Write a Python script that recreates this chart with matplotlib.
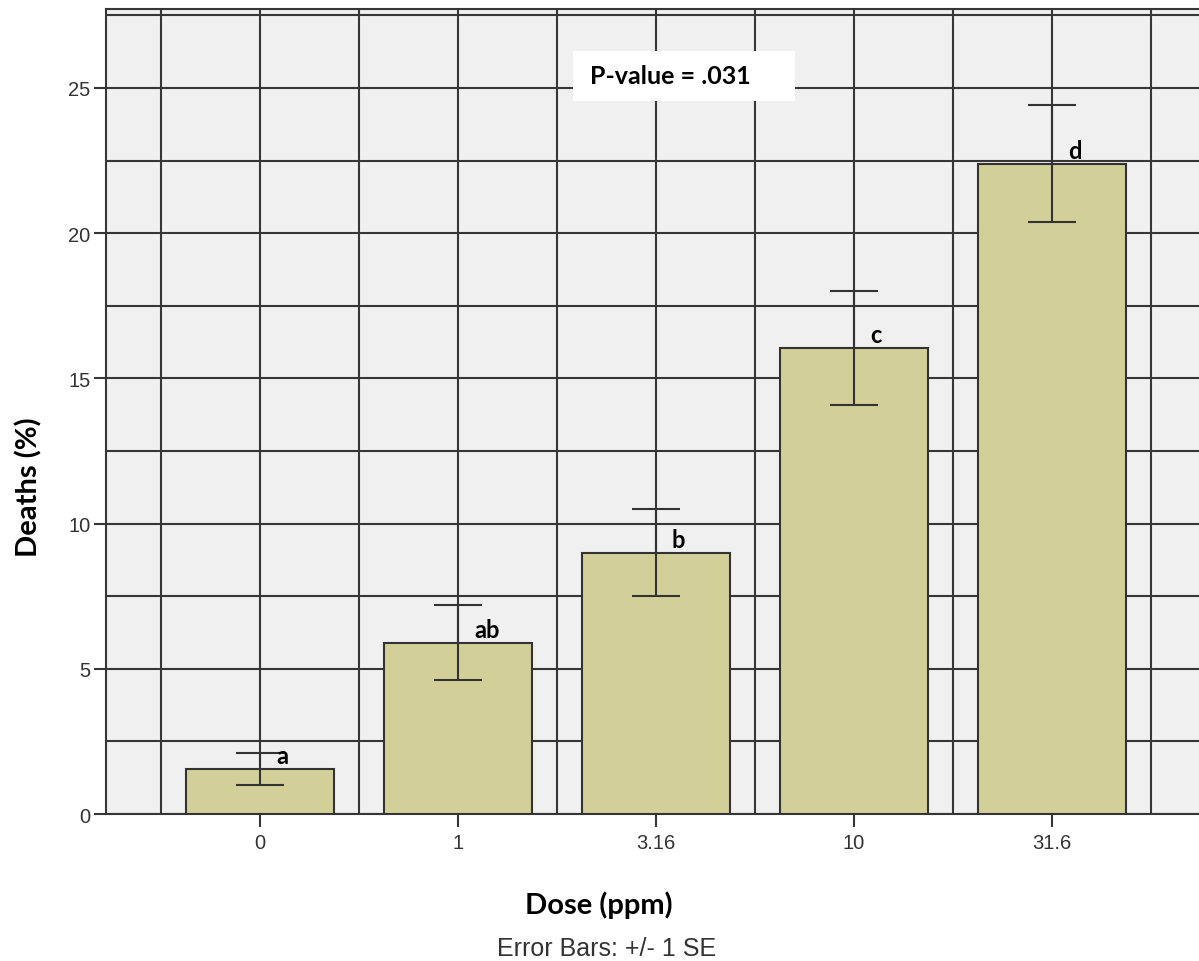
import numpy as np
import matplotlib
matplotlib.use("Agg")
import matplotlib.pyplot as plt
from matplotlib.patches import Rectangle
from matplotlib.ticker import MultipleLocator

# dose groups and mean deaths with standard error
doses = ["0", "1", "3.16", "10", "31.6"]
deaths = [1.55, 5.9, 9.0, 16.05, 22.4]
se = [0.54, 1.3, 1.5, 1.95, 2.0]
letters = ["a", "ab", "b", "c", "d"]
p_text = "P-value = .031"

grid_col = "#363636"
bar_col = "#d3cf99"

fig = plt.figure(figsize=(11.99, 9.62), dpi=100)
ax = fig.add_axes([0.0884, 0.1528, 0.9116, 0.8368])
ax.set_facecolor("#f0f0f0")

x = np.arange(len(doses))
ax.bar(x, deaths, width=0.75, color=bar_col, edgecolor="#333333", linewidth=1.5, zorder=3)
ax.errorbar(x, deaths, yerr=se, fmt="none", ecolor="#333333", elinewidth=1.5,
            capsize=17.5, capthick=1.5, zorder=4)

# group letters next to each error bar
for xi, yi, lab in zip(x, deaths, letters):
    ax.text(xi + 0.08, yi + 0.2, lab, ha="left", va="baseline",
            fontsize=17, fontweight="bold", family="Lato", zorder=5)

ax.set_xlim(-0.778, 4.742)
ax.set_ylim(0, 27.72)

ax.set_xticks(x)
ax.set_xticklabels(doses)
ax.xaxis.set_minor_locator(MultipleLocator(0.5))
ax.set_yticks(np.arange(0, 26, 5))
ax.yaxis.set_minor_locator(MultipleLocator(2.5))
ax.grid(True, which="both", color=grid_col, linewidth=1.5, zorder=1)
ax.set_axisbelow(True)

ax.tick_params(axis="both", which="major", length=9, width=1.5, color=grid_col,
               labelsize=14.5, labelcolor="#333333", pad=2)
ax.tick_params(axis="x", which="major", pad=5)
ax.tick_params(axis="both", which="minor", length=0)
for lab in ax.get_xticklabels() + ax.get_yticklabels():
    lab.set_family("Liberation Sans")

for side in ["left", "bottom", "top"]:
    ax.spines[side].set_color(grid_col)
    ax.spines[side].set_linewidth(1.5)
ax.spines["right"].set_visible(False)

ax.set_ylabel("Deaths (%)", fontsize=21, fontweight="bold", family="Lato", va="center")
ax.yaxis.set_label_coords(-0.0705, 0.4075)
ax.set_xlabel("Dose (ppm)", fontsize=21, fontweight="bold", family="Lato", va="center")
ax.xaxis.set_label_coords(0.451, -0.112)

# white box behind the p-value
ax.add_patch(Rectangle((0.4273, 0.8857), 0.2031, 0.0621, transform=ax.transAxes,
                       facecolor="white", edgecolor="none", zorder=6))
ax.text(0.4428, 0.9168, p_text, transform=ax.transAxes, ha="left", va="center",
        fontsize=18, fontweight="bold", family="Lato", zorder=7)

fig.text(0.506, 0.0062, "Error Bars: +/- 1 SE", ha="center", va="baseline",
         fontsize=18, color="#333333", family="Liberation Sans")

fig.savefig("out.png", dpi=100)
